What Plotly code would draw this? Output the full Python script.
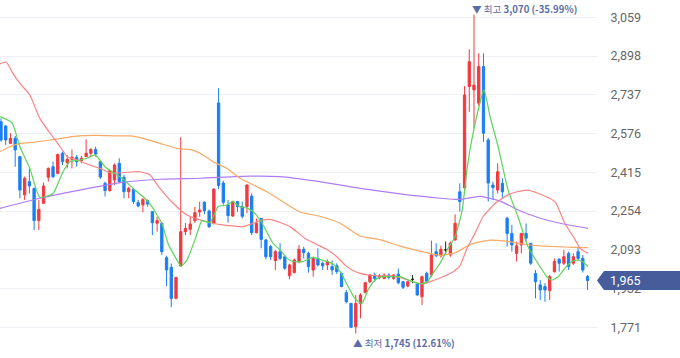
import plotly.graph_objects as go

# ---------------- data ----------------
open_ = [2625, 2607, 2535, 2556, 2480, 2321, 2376, 2348, 2214, 2286,
         2394, 2438, 2410, 2494, 2455, 2469, 2477, 2463, 2480, 2494,
         2510, 2459, 2369, 2339, 2383, 2452, 2394, 2334, 2344, 2289,
         2279, 2297, 2251, 2203, 2203, 2060, 2020, 1891, 2025, 2168,
         2178, 2214, 2250, 2290, 2254, 2204, 2703, 2370, 2280, 2233,
         2293, 2272, 2272, 2316, 2164, 2223, 2134, 2106, 2048, 2085,
         2064, 1985, 1998, 2044, 2095, 2078, 2009, 2057, 2037, 2030,
         2023, 2026, 1995, 1915, 1870, 1773, 1870, 1915, 1960, 1988,
         1976, 1974, 1988, 1974, 1992, 1960, 1942, 1970, 1951, 1898,
         1995, 1988, 2085, 2068, 2092, 2071, 2134, 2334, 2350, 2771,
         2757, 2702, 2854, 2549, 2362, 2341, 2369, 2224, 2161, 2078,
         2113, 2161, 2120, 1995, 1947, 1940, 1923, 2002, 2054, 2037,
         2078, 2037, 2085, 2057, 1982]
high = [2639, 2611, 2577, 2566, 2483, 2397, 2431, 2351, 2300, 2372,
        2435, 2459, 2492, 2501, 2487, 2510, 2487, 2483, 2552, 2514,
        2521, 2462, 2376, 2424, 2452, 2473, 2404, 2355, 2348, 2300,
        2307, 2302, 2254, 2230, 2206, 2068, 2035, 1981, 2561, 2204,
        2230, 2271, 2293, 2295, 2260, 2348, 2764, 2380, 2300, 2297,
        2296, 2293, 2365, 2327, 2223, 2223, 2136, 2113, 2092, 2120,
        2071, 2035, 2057, 2113, 2106, 2085, 2064, 2099, 2044, 2053,
        2048, 2037, 1998, 1926, 1872, 1905, 1912, 1960, 1992, 1998,
        1992, 1995, 1995, 1992, 2015, 1963, 1963, 1988, 1954, 1985,
        2002, 2131, 2120, 2110, 2127, 2127, 2240, 2369, 2773, 2926,
        3070, 2910, 2909, 2557, 2376, 2452, 2390, 2230, 2196, 2127,
        2161, 2203, 2120, 2009, 1967, 1954, 1988, 2057, 2057, 2092,
        2085, 2078, 2106, 2071, 1988]
low = [2542, 2528, 2532, 2438, 2307, 2300, 2327, 2175, 2175, 2283,
       2376, 2390, 2408, 2445, 2431, 2431, 2438, 2452, 2480, 2477,
       2480, 2387, 2314, 2334, 2362, 2369, 2307, 2307, 2283, 2269,
       2249, 2272, 2154, 2168, 2071, 1942, 1854, 1887, 2023, 2154,
       2154, 2204, 2230, 2240, 2183, 2198, 2345, 2280, 2205, 2230,
       2251, 2223, 2245, 2154, 2161, 2099, 2053, 2050, 2009, 2050,
       2009, 1970, 1995, 2037, 2057, 1998, 1981, 2023, 2009, 2009,
       1988, 1992, 1937, 1870, 1767, 1745, 1808, 1912, 1954, 1960,
       1970, 1970, 1970, 1968, 1950, 1930, 1937, 1954, 1902, 1863,
       1954, 1981, 2062, 2060, 2075, 2064, 2130, 2251, 2330, 2666,
       2598, 2690, 2541, 2293, 2300, 2327, 2307, 2106, 2085, 2044,
       2078, 2127, 2030, 1891, 1884, 1877, 1884, 1998, 2002, 2030,
       2009, 2030, 2050, 1998, 1926]
close = [2549, 2549, 2556, 2508, 2341, 2390, 2358, 2214, 2261, 2358,
         2431, 2397, 2489, 2459, 2469, 2477, 2459, 2473, 2494, 2510,
         2491, 2395, 2339, 2422, 2445, 2376, 2334, 2348, 2293, 2275,
         2302, 2283, 2205, 2214, 2085, 2009, 1891, 1978, 2168, 2182,
         2200, 2247, 2258, 2255, 2189, 2345, 2360, 2290, 2235, 2293,
         2272, 2232, 2362, 2164, 2203, 2136, 2064, 2064, 2085, 2057,
         2016, 2030, 2050, 2095, 2081, 2023, 2057, 2030, 2026, 2044,
         2009, 2002, 1940, 1877, 1771, 1870, 1905, 1956, 1988, 1974,
         1984, 1988, 1978, 1988, 1956, 1937, 1960, 1970, 1905, 1981,
         1962, 2071, 2068, 2095, 2092, 2120, 2203, 2293, 2736, 2874,
         2777, 2854, 2577, 2370, 2352, 2417, 2334, 2161, 2113, 2109,
         2161, 2141, 2037, 1960, 1926, 1926, 1981, 2044, 2037, 2064,
         2023, 2064, 2057, 2009, 1965]

# moving averages, read at points along each line (candle index, value)
ma_green_idx = [-0.2, 2.3, 4.0, 6.1, 8.2, 11.0, 13.1, 14.6, 16.7, 18.2, 19.9, 22.0,
                23.5, 25.6, 26.8, 28.3, 30.4, 31.9, 34.0, 35.3, 36.8, 38.1, 39.3,
                41.0, 42.5, 44.2, 45.9, 47.8, 49.0, 50.5, 52.2, 53.7, 55.4, 57.5,
                59.0, 60.5, 61.7, 63.8, 66.0, 67.9, 70.0, 71.7, 73.4, 74.8, 76.3,
                77.6, 79.1, 80.5, 82.2, 84.4, 86.5, 88.6, 90.1, 91.3, 92.8, 94.3,
                96.0, 97.5, 98.5, 99.8, 102.1, 103.4, 105.1, 107.2, 109.3, 111.4,
                113.5, 115.4, 116.5, 117.8, 119.2, 120.7, 121.8, 122.9, 124.1]
ma_green_val = [2646, 2621, 2521, 2431, 2311, 2327, 2417, 2459, 2466, 2473, 2487, 2438,
                2417, 2390, 2369, 2341, 2307, 2272, 2203, 2120, 2064, 2025, 2050,
                2134, 2214, 2206, 2272, 2279, 2293, 2272, 2265, 2244, 2196, 2120,
                2092, 2057, 2044, 2044, 2061, 2050, 2037, 2002, 1940, 1891, 1870,
                1926, 1967, 1981, 1981, 1981, 1964, 1951, 1960, 1995, 2036, 2092,
                2147, 2258, 2424, 2577, 2757, 2646, 2521, 2341, 2230, 2106,
                2037, 1981, 1967, 1981, 2016, 2044, 2050, 2044, 2023]

ma_red_idx = [-0.2, 1.1, 2.5, 4.0, 6.1, 8.2, 10.4, 12.5, 14.0, 16.1, 18.8, 20.9,
              23.0, 25.8, 27.9, 29.4, 31.5, 33.6, 36.4, 39.3, 42.1, 44.8, 46.9,
              49.0, 51.2, 53.3, 55.4, 56.9, 59.0, 61.1, 64.3, 67.0, 69.1, 71.0,
              72.7, 74.2, 75.9, 77.6, 79.7, 82.9, 85.0, 87.1, 89.2, 91.3, 93.4,
              95.6, 97.0, 98.5, 100.2, 101.9, 104.5, 107.2, 109.1, 111.2, 113.5,
              117.1, 119.2, 121.4, 122.4, 124.1]
ma_red_val = [2865, 2873, 2826, 2784, 2736, 2639, 2577, 2521, 2480, 2466, 2445, 2431,
              2413, 2413, 2417, 2417, 2404, 2348, 2286, 2237, 2217, 2203, 2196,
              2192, 2189, 2203, 2217, 2219, 2206, 2189, 2140, 2113, 2092, 2064,
              2030, 2009, 1995, 1988, 1984, 1984, 1974, 1960, 1951, 1964, 1981,
              2002, 2025, 2098, 2161, 2230, 2286, 2321, 2334, 2341, 2328,
              2293, 2203, 2134, 2099, 2078]

ma_orange_idx = [-0.2, 1.9, 4.0, 6.1, 10.4, 14.0, 17.3, 20.3, 24.5, 27.3, 30.0,
                 33.6, 37.2, 40.6, 42.7, 44.8, 47.8, 50.5, 54.1, 56.2, 59.0,
                 63.2, 67.4, 71.7, 75.9, 80.1, 84.4, 88.6, 92.8, 96.0, 99.2,
                 103.4, 107.0, 110.4, 114.0, 117.5, 120.9, 124.1]
ma_orange_val = [2501, 2521, 2535, 2538, 2549, 2560, 2567, 2568, 2566, 2566, 2556,
                 2535, 2514, 2507, 2487, 2459, 2431, 2390, 2355, 2334, 2300,
                 2250, 2232, 2203, 2150, 2135, 2108, 2087, 2070, 2080, 2115,
                 2133, 2128, 2117, 2109, 2106, 2103, 2102]

ma_purple_idx = [-0.2, 8.2, 16.7, 25.2, 33.6, 42.1, 52.6, 59.0, 67.4, 75.9, 84.4,
                 92.8, 97.0, 101.3, 105.5, 109.7, 114.0, 118.2, 124.1]
ma_purple_val = [2265, 2307, 2341, 2372, 2386, 2390, 2399, 2397, 2376, 2348, 2325,
                 2307, 2302, 2315, 2295, 2255, 2224, 2203, 2182]

tick_vals = [1771, 1932, 2093, 2254, 2415, 2576, 2737, 2898, 3059]
tick_text = [f"{v:,}" for v in tick_vals]

# ---------------- styles ----------------
RED = "#f2393f"
BLUE = "#1b7ff2"
LABEL = "#5a6da6"
TAG = "#475c9b"
Y_RANGE = [1643.2, 3130.7]
PLOT_H = 358
unit_per_px = (Y_RANGE[1] - Y_RANGE[0]) / PLOT_H

x = list(range(len(close)))
doji = [o == c for o, c in zip(open_, close)]

def pick(arr, keep):
    return [a for a, k in zip(arr, keep) if k]

normal = [not d for d in doji]

fig = go.Figure()
fig.add_trace(go.Candlestick(
    x=pick(x, normal), open=pick(open_, normal), high=pick(high, normal),
    low=pick(low, normal), close=pick(close, normal),
    increasing=dict(line=dict(color=RED, width=1), fillcolor=RED),
    decreasing=dict(line=dict(color=BLUE, width=1), fillcolor=BLUE),
    whiskerwidth=0, showlegend=False, hoverinfo="skip"))
fig.add_trace(go.Candlestick(
    x=pick(x, doji), open=pick(open_, doji), high=pick(high, doji),
    low=pick(low, doji), close=pick(close, doji),
    increasing=dict(line=dict(color="#222222", width=1), fillcolor="#222222"),
    decreasing=dict(line=dict(color="#222222", width=1), fillcolor="#222222"),
    whiskerwidth=0, showlegend=False, hoverinfo="skip"))

for idx, val, col in [(ma_purple_idx, ma_purple_val, "#b07cf5"),
                      (ma_orange_idx, ma_orange_val, "#f7aa66"),
                      (ma_red_idx, ma_red_val, "#f88484"),
                      (ma_green_idx, ma_green_val, "#5dd35d")]:
    fig.add_trace(go.Scatter(x=idx, y=val, mode="lines",
                             line=dict(color=col, width=1.2, shape="spline", smoothing=0.5),
                             showlegend=False, hoverinfo="skip"))

# high / low labels
hi_i = max(range(len(high)), key=lambda i: high[i])
lo_i = min(range(len(low)), key=lambda i: low[i])
last = close[-1]
hi_pct = (last / high[hi_i] - 1) * 100
lo_pct = (last / low[lo_i] - 1) * 100
font_lbl = dict(family="Noto Sans CJK KR, Roboto, sans-serif", size=9.6, color=LABEL)
fig.add_annotation(x=hi_i, y=1 - 9 / PLOT_H, xref="x", yref="paper",
                   text=f"▼ 최고 <b>{high[hi_i]:,} ({hi_pct:.2f}%)</b>",
                   showarrow=False, xanchor="left", yanchor="middle", xshift=-4,
                   font=font_lbl)
fig.add_annotation(x=lo_i, y=1 - 343 / PLOT_H, xref="x", yref="paper",
                   text=f"▲ 최저 <b>{low[lo_i]:,} ({lo_pct:.2f}%)</b>",
                   showarrow=False, xanchor="left", yanchor="middle", xshift=-5,
                   font=font_lbl)

# current price tag
plot_w = 680 - 83
half = 9.5 * unit_per_px
x_tip = 1.0
x_body = 1 + 7 / plot_w
x_end = 1 + 90 / plot_w
fig.add_shape(type="path", xref="paper", yref="y",
              path=(f"M {x_tip} {last} L {x_body} {last + half} L {x_end} {last + half} "
                    f"L {x_end} {last - half} L {x_body} {last - half} Z"),
              fillcolor=TAG, line=dict(width=0), layer="above")
fig.add_annotation(x=1 + 11 / plot_w, y=last, xref="paper", yref="y",
                   text=f"{last:,}", showarrow=False, xanchor="left", yanchor="middle",
                   font=dict(family="Roboto, sans-serif", size=12.5, color="white"))

fig.update_layout(
    width=680, height=358,
    margin=dict(l=0, r=83, t=0, b=0),
    paper_bgcolor="white", plot_bgcolor="white",
    boxmode="overlay", boxgap=0.3,
    xaxis=dict(range=[-0.21, 126.0], visible=False, showgrid=False, zeroline=False,
               rangeslider=dict(visible=False), fixedrange=True),
    yaxis=dict(range=Y_RANGE, side="right", tickvals=tick_vals, ticktext=tick_text,
               showgrid=True, gridcolor="#eef0f5", gridwidth=1, zeroline=False,
               showline=False, ticks="outside", ticklen=10, tickcolor="rgba(0,0,0,0)",
               tickfont=dict(family="Roboto, sans-serif", size=12.5, color="#666666")),
)

fig.write_html("out.html", config={"displayModeBar": False},
               post_script="document.body.style.margin='0';document.body.style.overflow='hidden';")
